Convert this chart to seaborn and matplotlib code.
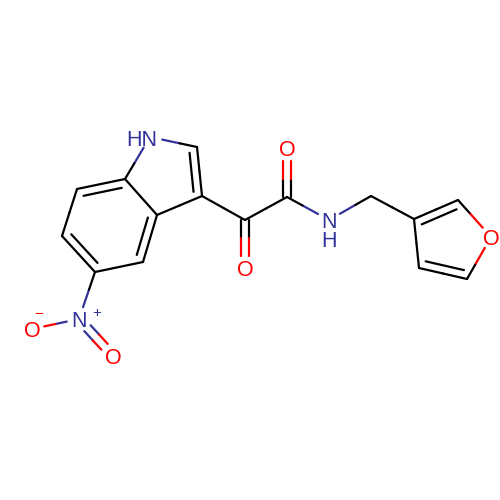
import numpy as np
import pandas as pd
import matplotlib
matplotlib.use("Agg")
import matplotlib.pyplot as plt
import seaborn as sns

# Atoms: position on the page, in pixels
atom_names = ["N1", "C2", "C3", "C3a", "C7a", "C7", "C6", "C5", "C4",
              "Nn", "Om", "Od", "Ck", "Ok", "Ca", "Oa", "Nh", "Cm",
              "F3", "F2", "Of", "F5", "F4"]
atom_x = [150, 197, 202, 157, 125, 77, 62, 95, 143,
          79, 32, 113, 245, 245, 287, 287, 329, 371,
          414, 458, 491, 467, 419]
atom_y = [137, 147, 196, 215, 179, 189, 236, 272, 262,
          319, 329, 356, 220, 268, 197, 148, 220, 196,
          219, 200, 237, 279, 268]
hetero_names = ["N1", "Nn", "Om", "Od", "Ok", "Oa", "Nh", "Of"]
hetero_colors = ["#333399", "#333399", "#ff0000", "#ff0000",
                 "#ff0000", "#ff0000", "#333399", "#ff0000"]

# Bonds
single_bonds = [("N1", "C7a"), ("C3", "C3a"), ("C7a", "C3a"), ("C7", "C6"),
                ("C5", "C4"), ("C5", "Nn"), ("Nn", "Om"), ("C3", "Ck"),
                ("Ck", "Ca"), ("Ca", "Nh"), ("Nh", "Cm"), ("Cm", "F3"),
                ("F2", "Of"), ("Of", "F5"), ("F4", "F3"), ("N1", "C2")]
free_double_bonds = [("Ck", "Ok"), ("Ca", "Oa"), ("Nn", "Od")]
ring_double_bonds = [("C2", "C3", ["N1", "C2", "C3", "C3a", "C7a"]),
                     ("C3a", "C4", ["C3a", "C7a", "C7", "C6", "C5", "C4"]),
                     ("C5", "C6", ["C3a", "C7a", "C7", "C6", "C5", "C4"]),
                     ("C7", "C7a", ["C3a", "C7a", "C7", "C6", "C5", "C4"]),
                     ("F2", "F3", ["F3", "F2", "Of", "F5", "F4"]),
                     ("F4", "F5", ["F3", "F2", "Of", "F5", "F4"])]

# Labels
label_texts = ["HN", "N", "O", "O", "O", "O", "N", "H", "O"]
label_x = [142, 79, 32, 113, 245, 287, 329, 329, 491]
label_y = [138, 319, 329, 356, 268, 148, 220, 239, 237]
label_colors = ["#333399", "#333399", "#ff0000", "#ff0000", "#ff0000",
                "#ff0000", "#333399", "#333399", "#ff0000"]
charge_texts = ["\u2212", "+"]
charge_x = [39, 97]
charge_y = [312, 311]
charge_colors = ["#ff0000", "#333399"]

TRIM = 12.5
DOUBLE_OFFSET = 4.3
RING_OFFSET = 8.0
RING_SHORTEN = 5.0

pos = {n: np.array([x, y], float) for n, x, y in zip(atom_names, atom_x, atom_y)}
color_of = dict(zip(hetero_names, hetero_colors))
rows = []
seg = 0


def add(p, q, color):
    global seg
    rows.append({"x": p[0], "y": p[1], "seg": seg, "color": color})
    rows.append({"x": q[0], "y": q[1], "seg": seg, "color": color})
    seg += 1


def add_bond(a, b, shift=(0.0, 0.0)):
    p, q = pos[a] + shift, pos[b] + shift
    u = (q - p) / np.linalg.norm(q - p)
    if a in color_of:
        p = p + u * TRIM
    if b in color_of:
        q = q - u * TRIM
    mid = (p + q) / 2
    add(p, mid, color_of.get(a, "#000000"))
    add(mid, q, color_of.get(b, "#000000"))


for a, b in single_bonds:
    add_bond(a, b)
for a, b in free_double_bonds:
    d = pos[b] - pos[a]
    n = np.array([-d[1], d[0]]) / np.linalg.norm(d)
    add_bond(a, b, n * DOUBLE_OFFSET)
    add_bond(a, b, -n * DOUBLE_OFFSET)
for a, b, ring in ring_double_bonds:
    add_bond(a, b)
    center = np.mean([pos[r] for r in ring], axis=0)
    d = pos[b] - pos[a]
    u = d / np.linalg.norm(d)
    n = np.array([-u[1], u[0]])
    if np.dot(center - pos[a], n) < 0:
        n = -n
    add(pos[a] + n * RING_OFFSET + u * RING_SHORTEN,
        pos[b] + n * RING_OFFSET - u * RING_SHORTEN, "#000000")

df = pd.DataFrame(rows)

sns.set_theme(style="white")
plt.rcParams["font.family"] = ["Liberation Sans", "DejaVu Sans"]
fig = plt.figure(figsize=(5, 5), dpi=100, facecolor="white")
ax = fig.add_axes([0, 0, 1, 1])

sns.lineplot(data=df, x="x", y="y", units="seg", hue="color",
             palette={c: c for c in df["color"].unique()},
             estimator=None, sort=False, legend=False, ax=ax,
             linewidth=1.6, solid_capstyle="round", solid_joinstyle="round")

for t, x, y, c in zip(label_texts, label_x, label_y, label_colors):
    ax.text(x, y, t, color=c, fontsize=15.5, ha="center", va="center_baseline")
for t, x, y, c in zip(charge_texts, charge_x, charge_y, charge_colors):
    ax.text(x, y, t, color=c, fontsize=11, ha="center", va="center_baseline")

ax.set_xlim(0, 500)
ax.set_ylim(500, 0)
ax.set_axis_off()
fig.savefig("out.png", dpi=100, facecolor="white")
